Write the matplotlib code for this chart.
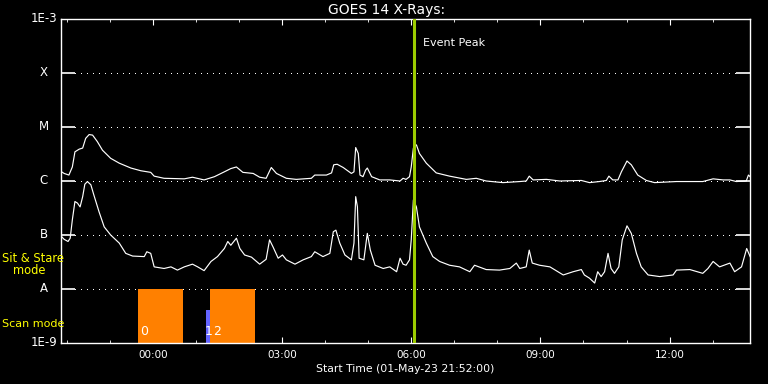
import numpy as np
import matplotlib
matplotlib.use("Agg")
import matplotlib.pyplot as plt
from matplotlib.transforms import blended_transform_factory

plt.rcParams["lines.scale_dashes"] = False

# ---- data (time in hours relative to 02-May-23 00:00, flux as log10 W/m^2) ----
long_t = [-2.12, -2.06, -1.95, -1.87, -1.81, -1.71, -1.63, -1.56, -1.48, -1.40, -1.29, -1.17,
          -0.98, -0.78, -0.51, -0.28, -0.05, 0.03, 0.26, 0.73, 0.92, 1.19, 1.43, 1.66, 1.81,
          1.94, 2.09, 2.33, 2.48, 2.63, 2.75, 2.87, 3.10, 3.33, 3.68, 3.76, 4.03, 4.15, 4.20,
          4.28, 4.42, 4.61, 4.67, 4.71, 4.77, 4.81, 4.88, 4.94, 4.98, 5.08, 5.27, 5.50, 5.74,
          5.81, 5.88, 5.96, 6.00, 6.05, 6.12, 6.19, 6.35, 6.58, 6.89, 7.28, 7.51, 7.74, 8.13,
          8.52, 8.67, 8.74, 8.83, 9.14, 9.45, 9.95, 10.14, 10.37, 10.53, 10.59, 10.68, 10.80,
          10.88, 11.01, 11.11, 11.26, 11.46, 11.65, 12.16, 12.77, 13.01, 13.24, 13.40, 13.55,
          13.78, 13.83, 13.87]
long_logf = [-5.83, -5.86, -5.89, -5.74, -5.46, -5.41, -5.39, -5.21, -5.14, -5.15, -5.27, -5.43,
             -5.58, -5.67, -5.76, -5.81, -5.84, -5.91, -5.95, -5.96, -5.93, -5.98, -5.92, -5.83, -5.77,
             -5.74, -5.84, -5.86, -5.93, -5.95, -5.75, -5.86, -5.95, -5.97, -5.95, -5.89, -5.89, -5.85, -5.70,
             -5.69, -5.75, -5.86, -5.83, -5.38, -5.49, -5.89, -5.92, -5.80, -5.76, -5.92, -5.98, -5.98, -6.00,
             -5.95, -5.97, -5.92, -5.74, -5.39, -5.33, -5.49, -5.67, -5.85, -5.91, -5.97, -5.95, -6.00, -6.03,
             -6.01, -6.00, -5.91, -5.98, -5.97, -6.00, -5.99, -6.03, -6.01, -5.99, -5.91, -5.98, -5.98,
             -5.83, -5.63, -5.70, -5.89, -5.99, -6.03, -6.01, -6.01, -5.96, -5.98, -5.98, -6.01,
             -6.00, -5.89, -5.92]

short_t = [-2.12, -2.06, -1.97, -1.92, -1.87, -1.81, -1.75, -1.69, -1.63, -1.58, -1.52, -1.44,
           -1.37, -1.25, -1.13, -0.98, -0.78, -0.63, -0.47, -0.20, -0.14, -0.05, 0.03, 0.26,
           0.42, 0.57, 0.73, 0.92, 1.04, 1.19, 1.35, 1.50, 1.66, 1.74, 1.81, 1.94, 2.02, 2.13,
           2.29, 2.48, 2.63, 2.71, 2.79, 2.91, 3.01, 3.10, 3.30, 3.49, 3.68, 3.76, 3.95, 4.11,
           4.19, 4.25, 4.34, 4.46, 4.61, 4.67, 4.71, 4.75, 4.79, 4.90, 4.96, 4.98, 5.05, 5.16,
           5.35, 5.50, 5.66, 5.74, 5.81, 5.88, 5.96, 6.00, 6.05, 6.12, 6.19, 6.35, 6.50, 6.66,
           6.89, 7.12, 7.36, 7.47, 7.74, 8.05, 8.29, 8.44, 8.52, 8.67, 8.74, 8.81, 8.98, 9.22,
           9.53, 9.76, 9.95, 10.02, 10.14, 10.26, 10.33, 10.41, 10.49, 10.57, 10.64, 10.72,
           10.82, 10.90, 11.01, 11.11, 11.23, 11.34, 11.50, 11.77, 12.08, 12.16, 12.47, 12.77,
           12.89, 13.01, 13.16, 13.40, 13.51, 13.67, 13.79, 13.87]
short_logf = [-7.03, -7.08, -7.12, -7.06, -6.72, -6.38, -6.41, -6.48, -6.29, -6.06, -6.01, -6.07,
              -6.26, -6.57, -6.85, -7.00, -7.15, -7.34, -7.39, -7.40, -7.31, -7.34, -7.59, -7.62,
              -7.59, -7.65, -7.59, -7.54, -7.59, -7.66, -7.49, -7.40, -7.25, -7.12, -7.19, -7.06, -7.25, -7.37,
              -7.41, -7.54, -7.45, -7.09, -7.22, -7.43, -7.37, -7.46, -7.54, -7.46, -7.40, -7.31, -7.40, -7.34,
              -6.94, -6.91, -7.15, -7.37, -7.46, -7.15, -6.29, -6.48, -7.43, -7.46, -7.09, -6.97, -7.28, -7.56,
              -7.62, -7.59, -7.68, -7.43, -7.54, -7.56, -7.46, -7.09, -6.35, -6.48, -6.85, -7.15, -7.40, -7.49,
              -7.56, -7.59, -7.68, -7.56, -7.64, -7.65, -7.62, -7.52, -7.62, -7.59, -7.28, -7.52, -7.56, -7.59,
              -7.74, -7.68, -7.64, -7.74, -7.80, -7.89, -7.68, -7.77, -7.68, -7.34, -7.62, -7.71,
              -7.59, -7.09, -6.83, -6.97, -7.34, -7.59, -7.74, -7.77, -7.74, -7.65, -7.64, -7.71,
              -7.62, -7.49, -7.59, -7.52, -7.68, -7.59, -7.25, -7.40]

x_start, x_end = -2.1333, 13.8667          # 21:52 -> +16 h
event_peak = 6.07
scan_start = [-0.34, 1.23, 1.33]
scan_end = [0.71, 1.33, 2.37]
scan_top = [1e-8, 4.1e-9, 1e-8]
scan_colors = ["#ff8000", "#6464ff", "#ff8000"]
scan_labels = ["0", "1", "2"]
level_vals = [1e-3, 1e-4, 1e-5, 1e-6, 1e-7, 1e-8, 1e-9]
level_labels = ["1E-3", "X", "M", "C", "B", "A", "1E-9"]
xtick_pos = [0, 3, 6, 9, 12]
xtick_labels = ["00:00", "03:00", "06:00", "09:00", "12:00"]

W, H = 768, 384
fig = plt.figure(figsize=(W / 100, H / 100), dpi=100, facecolor="black")
ax = fig.add_axes([61 / W, 41 / H, 689 / W, 324 / H], facecolor="black")
ax.set_yscale("log")
ax.set_xlim(x_start, x_end)
ax.set_ylim(1e-9, 1e-3)

# scan bars
for s, e, top, c in zip(scan_start, scan_end, scan_top, scan_colors):
    ax.bar(s, top - 1e-9, width=e - s, bottom=1e-9, align="edge", color=c, linewidth=0, zorder=2)
label_offsets = [0.04, -0.03, 0.08]
for s, off, lab in zip(scan_start, label_offsets, scan_labels):
    ax.text(s + off, 1.6e-9, lab, color="white", fontsize=9, ha="left", va="center", zorder=3)

# dotted level lines
px = (x_end - x_start) / 689
for v in level_vals[1:-1]:
    ax.plot([x_start + 14 * px, x_end - 14 * px], [v, v], color="white", lw=1.0,
            dashes=(0.72, 3.6), dash_capstyle="butt", antialiased=False, zorder=1)

ax.plot(long_t, 10 ** np.array(long_logf), color="white", lw=0.85, zorder=4)
ax.plot(short_t, 10 ** np.array(short_logf), color="white", lw=0.85, zorder=4)

ax.axvline(event_peak, color="#9ccc00", lw=2.2, zorder=5)
ax.text(event_peak + 0.21, 10 ** (-3.45), "Event Peak", color="white", fontsize=8,
        ha="left", va="center")

for sp in ax.spines.values():
    sp.set_color("white")
    sp.set_linewidth(1.0)

ax.set_xticks(xtick_pos)
ax.set_xticklabels(xtick_labels)
ax.set_xticks(np.arange(-2, 14, 1), minor=True)
ax.tick_params(axis="x", which="major", direction="in", length=4.3, color="white",
               labelcolor="white", labelsize=7.5, top=True, pad=5)
ax.tick_params(axis="x", which="minor", direction="in", length=2.3, color="white", top=True)
ax.set_yticks(level_vals[1:-1])
ax.set_yticks([], minor=True)
ax.set_yticklabels([])
ax.tick_params(axis="y", which="major", direction="in", length=10, width=1.2, color="white",
               right=True, labelleft=False)

tr = blended_transform_factory(ax.transAxes, ax.transData)
for v, lab in zip(level_vals, level_labels):
    ax.text(-17 / 689, v, lab, transform=tr, color="white", fontsize=8.5,
            ha="center", va="center", clip_on=False)

fig.text(387 / W, 1 - 10 / H, "GOES 14 X-Rays:", color="white", fontsize=10,
         ha="center", va="center")
fig.text(405.5 / W, 1 - 369 / H, "Start Time (01-May-23 21:52:00)", color="white",
         fontsize=7.8, ha="center", va="center")
fig.text(2 / W, 1 - 259 / H, "Sit & Stare", color="yellow", fontsize=8.3, ha="left", va="center")
fig.text(13 / W, 1 - 271 / H, "mode", color="yellow", fontsize=8.3, ha="left", va="center")
fig.text(2 / W, 1 - 324 / H, "Scan mode", color="yellow", fontsize=8, ha="left", va="center")

fig.savefig("out.png", dpi=100, facecolor="black")
